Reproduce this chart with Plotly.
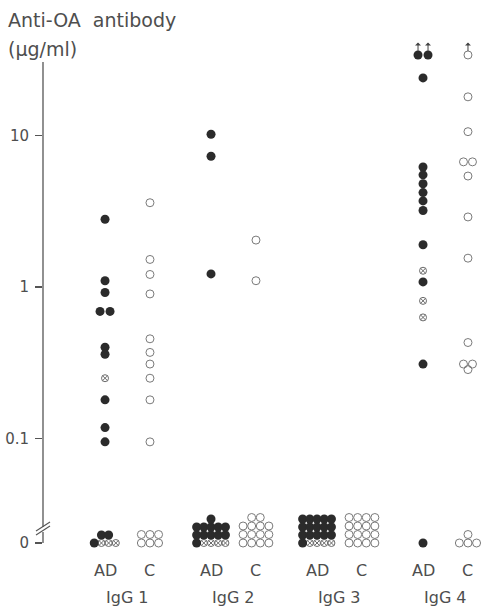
import numpy as np
import plotly.graph_objects as go

# ---------------- data (µg/ml) ----------------
groups = ["IgG 1", "IgG 2", "IgG 3", "IgG 4"]
subgroups = ["AD", "C"]

# AD patients, filled dots
igg1_ad = [2.8, 1.1, 0.92, 0.69, 0.69, 0.40, 0.36, 0.18, 0.118, 0.095]
igg2_ad = [10.2, 7.3, 1.22]
igg3_ad = []
igg4_ad = [24, 6.2, 5.5, 4.8, 4.2, 3.7, 3.2, 1.9, 1.08, 0.31]
# AD patients, crossed circles
igg1_ad_x = [0.25]
igg2_ad_x = []
igg3_ad_x = []
igg4_ad_x = [1.28, 0.81, 0.63]
# controls, open circles
igg1_c = [3.6, 1.52, 1.21, 0.90, 0.455, 0.37, 0.31, 0.25, 0.18, 0.095]
igg2_c = [2.04, 1.1]
igg3_c = []
igg4_c = [18, 10.6, 6.7, 6.7, 5.4, 2.9, 1.55, 0.43, 0.31, 0.31, 0.285]
# values above the measuring range (drawn with an arrow)
igg4_ad_above = [34, 34]
igg4_c_above = [34]

# counts of zero values per IgG subclass
zero_ad_filled = [3, 12, 16, 1]
zero_ad_crossed = [3, 4, 4, 0]
zero_c = [6, 14, 16, 4]

# ---------------- layout geometry ----------------
W, H = 484, 610
ML, MR, MT, MB = 43, 0, 40, 50
PW, PH = W - ML - MR, H - MT - MB
PX_PER_UNIT = 106.0
G0_PX = 127.5                      # pixel centre of first group
X0 = -(G0_PX - ML) / PX_PER_UNIT
X1 = X0 + PW / PX_PER_UNIT
SUB_OFF = 0.212                    # AD / C offset from group centre
PX = 1.0 / PX_PER_UNIT             # one pixel in x units

AXIS_TOP_PX, LOG_BOT_PX = 62, 527
PX_PER_DEC = 151.5
ONE_PX = 287
log_hi = (ONE_PX - MT) / PX_PER_DEC
log_lo = (ONE_PX - LOG_BOT_PX) / PX_PER_DEC
dom_split = (H - MB - LOG_BOT_PX) / PH
ZERO_PX = 543
Y2_TOP_PX = 495
y2_lo = -((H - MB) - ZERO_PX)
y2_hi = y2_lo + (H - MB - Y2_TOP_PX)
dom2_top = (H - MB - Y2_TOP_PX) / PH


def paper_x(px):
    return (px - ML) / PW


def paper_y(py):
    return (H - MB - py) / PH


INK = "#2b2b2b"
GREY = "#7a7a7a"
TXT = "#4e4e4e"
AX = "#555"
FONT = "DejaVu Sans"

STY = {
    "filled": dict(symbol="circle", size=9, color=INK, line=dict(width=0)),
    "crossed": dict(symbol="circle-x-open", size=7, color="#6a6a6a", line=dict(width=1)),
    "open": dict(symbol="circle-open", size=8, color=GREY, line=dict(width=1)),
}

fig = go.Figure()


def spread(vals, gap_px):
    offs = [0.0] * len(vals)
    if not vals:
        return offs
    logs = np.log10(vals)
    used = [False] * len(vals)
    for i in range(len(vals)):
        if used[i]:
            continue
        grp = [j for j in range(len(vals)) if not used[j] and abs(logs[j] - logs[i]) < 0.01]
        for k, j in enumerate(grp):
            offs[j] = (k - (len(grp) - 1) / 2) * gap_px
            used[j] = True
    return offs


def add_points(centre, vals, kind, gap):
    if not vals:
        return
    offs = spread(vals, gap)
    fig.add_trace(go.Scatter(
        x=[centre + o * PX for o in offs], y=vals, mode="markers",
        marker=STY[kind], cliponaxis=False, showlegend=False, hoverinfo="skip",
        xaxis="x", yaxis="y"))


ad_series = [igg1_ad, igg2_ad, igg3_ad, igg4_ad]
adx_series = [igg1_ad_x, igg2_ad_x, igg3_ad_x, igg4_ad_x]
c_series = [igg1_c, igg2_c, igg3_c, igg4_c]

for gi in range(len(groups)):
    xa = gi - SUB_OFF
    xc = gi + SUB_OFF
    add_points(xa, ad_series[gi], "filled", 10)
    add_points(xa, adx_series[gi], "crossed", 8)
    add_points(xc, c_series[gi], "open", 9)

add_points(3 - SUB_OFF, igg4_ad_above, "filled", 10)
add_points(3 + SUB_OFF, igg4_c_above, "open", 9)

# arrows for values above range
for centre, vals in [(3 - SUB_OFF, igg4_ad_above), (3 + SUB_OFF, igg4_c_above)]:
    offs = spread(vals, 10)
    for v, o in zip(vals, offs):
        fig.add_annotation(x=centre + o * PX, y=np.log10(v), xref="x", yref="y",
                           text="", showarrow=True, ax=0, ay=-14,
                           arrowside="start", arrowhead=2, arrowsize=0.7,
                           arrowwidth=1, arrowcolor="#444", standoff=4)


# ---------------- zero rows (packed clusters) ----------------
def pack(n_filled, n_crossed, ncols, dx, dy):
    items = []
    bottom = ["filled"] * max(0, min(n_filled, ncols - n_crossed)) + ["crossed"] * n_crossed
    rest = n_filled - bottom.count("filled")
    rows = [bottom] if bottom else []
    while rest > 0:
        k = min(ncols, rest)
        rows.append(["filled"] * k)
        rest -= k
    for r, row in enumerate(rows):
        n = len(row)
        for c, kind in enumerate(row):
            items.append(((c - (n - 1) / 2) * dx, r * dy, kind))
    return items


def pack_open(n, ncols, dx, dy):
    items = []
    r = 0
    while n > 0:
        k = min(ncols, n)
        for c in range(k):
            items.append(((c - (k - 1) / 2) * dx, r * dy, "open"))
        n -= k
        r += 1
    return items


ad_cols = [4, 5, 5, 1]
c_cols = [3, 4, 4, 3]

for gi in range(len(groups)):
    clusters = [
        (gi - SUB_OFF, pack(zero_ad_filled[gi], zero_ad_crossed[gi], ad_cols[gi], 7.2, 8)),
        (gi + SUB_OFF, pack_open(zero_c[gi], c_cols[gi], 8.6, 8.5)),
    ]
    for centre, items in clusters:
        for kind in ["crossed", "open", "filled"]:
            sel = [(xo, yo) for xo, yo, k in items if k == kind]
            if not sel:
                continue
            fig.add_trace(go.Scatter(
                x=[centre + xo * PX for xo, _ in sel],
                y=[0 + yo for _, yo in sel],
                mode="markers", marker=STY[kind], cliponaxis=False,
                showlegend=False, hoverinfo="skip", xaxis="x", yaxis="y2"))

# ---------------- axes ----------------
fig.update_layout(
    width=W, height=H,
    margin=dict(l=ML, r=MR, t=MT, b=MB, pad=0),
    paper_bgcolor="white", plot_bgcolor="rgba(0,0,0,0)",
    font=dict(family=FONT, color=TXT, size=15),
    xaxis=dict(range=[X0, X1], visible=False, fixedrange=True),
    yaxis=dict(type="log", domain=[dom_split, 1], range=[log_lo, log_hi],
               anchor="x", showline=False,
               ticks="outside", ticklen=7, tickwidth=1.3, tickcolor=AX,
               tickvals=[0.1, 1, 10], ticktext=["0.1", "1", "10"],
               tickfont=dict(size=15, color=TXT, family=FONT),
               showgrid=False, zeroline=False, ticklabelstandoff=3),
    yaxis2=dict(domain=[0, dom2_top], range=[y2_lo, y2_hi], anchor="x",
                showline=False, ticks="outside", ticklen=7, tickwidth=1.3,
                tickcolor=AX, tickvals=[0], ticktext=["0"],
                tickfont=dict(size=15, color=TXT, family=FONT),
                showgrid=False, zeroline=False, ticklabelstandoff=3),
)

# main axis line, lower axis stub and break marks
fig.add_shape(type="line", xref="paper", yref="paper", x0=0, x1=0,
              y0=paper_y(LOG_BOT_PX), y1=paper_y(AXIS_TOP_PX),
              line=dict(color=AX, width=1.3))
fig.add_shape(type="line", xref="paper", yref="y2", x0=0, x1=0, y0=0, y1=11,
              line=dict(color=AX, width=1.3))
for dyp in (0, 4):
    fig.add_shape(type="line", xref="paper", yref="paper",
                  x0=paper_x(36), y0=paper_y(531 + dyp),
                  x1=paper_x(50), y1=paper_y(522 + dyp),
                  line=dict(color=AX, width=1.1))

# category labels
for gi, g in enumerate(groups):
    for s in subgroups:
        xpos = gi - SUB_OFF if s == "AD" else gi + SUB_OFF
        fig.add_annotation(x=xpos, y=paper_y(570), xref="x", yref="paper",
                           text=s, showarrow=False, xanchor="center", yanchor="middle",
                           font=dict(size=16, color=TXT, family=FONT))
    fig.add_annotation(x=gi, y=paper_y(597), xref="x", yref="paper",
                       text=g, showarrow=False, xanchor="center", yanchor="middle",
                       font=dict(size=16, color=TXT, family=FONT))

# axis title
fig.add_annotation(x=paper_x(6), y=paper_y(20), xref="paper", yref="paper",
                   text="Anti-OA\u00a0\u00a0antibody", showarrow=False,
                   xanchor="left", yanchor="middle",
                   font=dict(size=19, color=TXT, family=FONT))
fig.add_annotation(x=paper_x(6), y=paper_y(49), xref="paper", yref="paper",
                   text="(µg/ml)", showarrow=False,
                   xanchor="left", yanchor="middle",
                   font=dict(size=19, color=TXT, family=FONT))

fig.write_html("out.html",
               config={"displayModeBar": False, "staticPlot": True},
               post_script="document.body.style.margin='0';document.body.style.overflow='hidden';")
